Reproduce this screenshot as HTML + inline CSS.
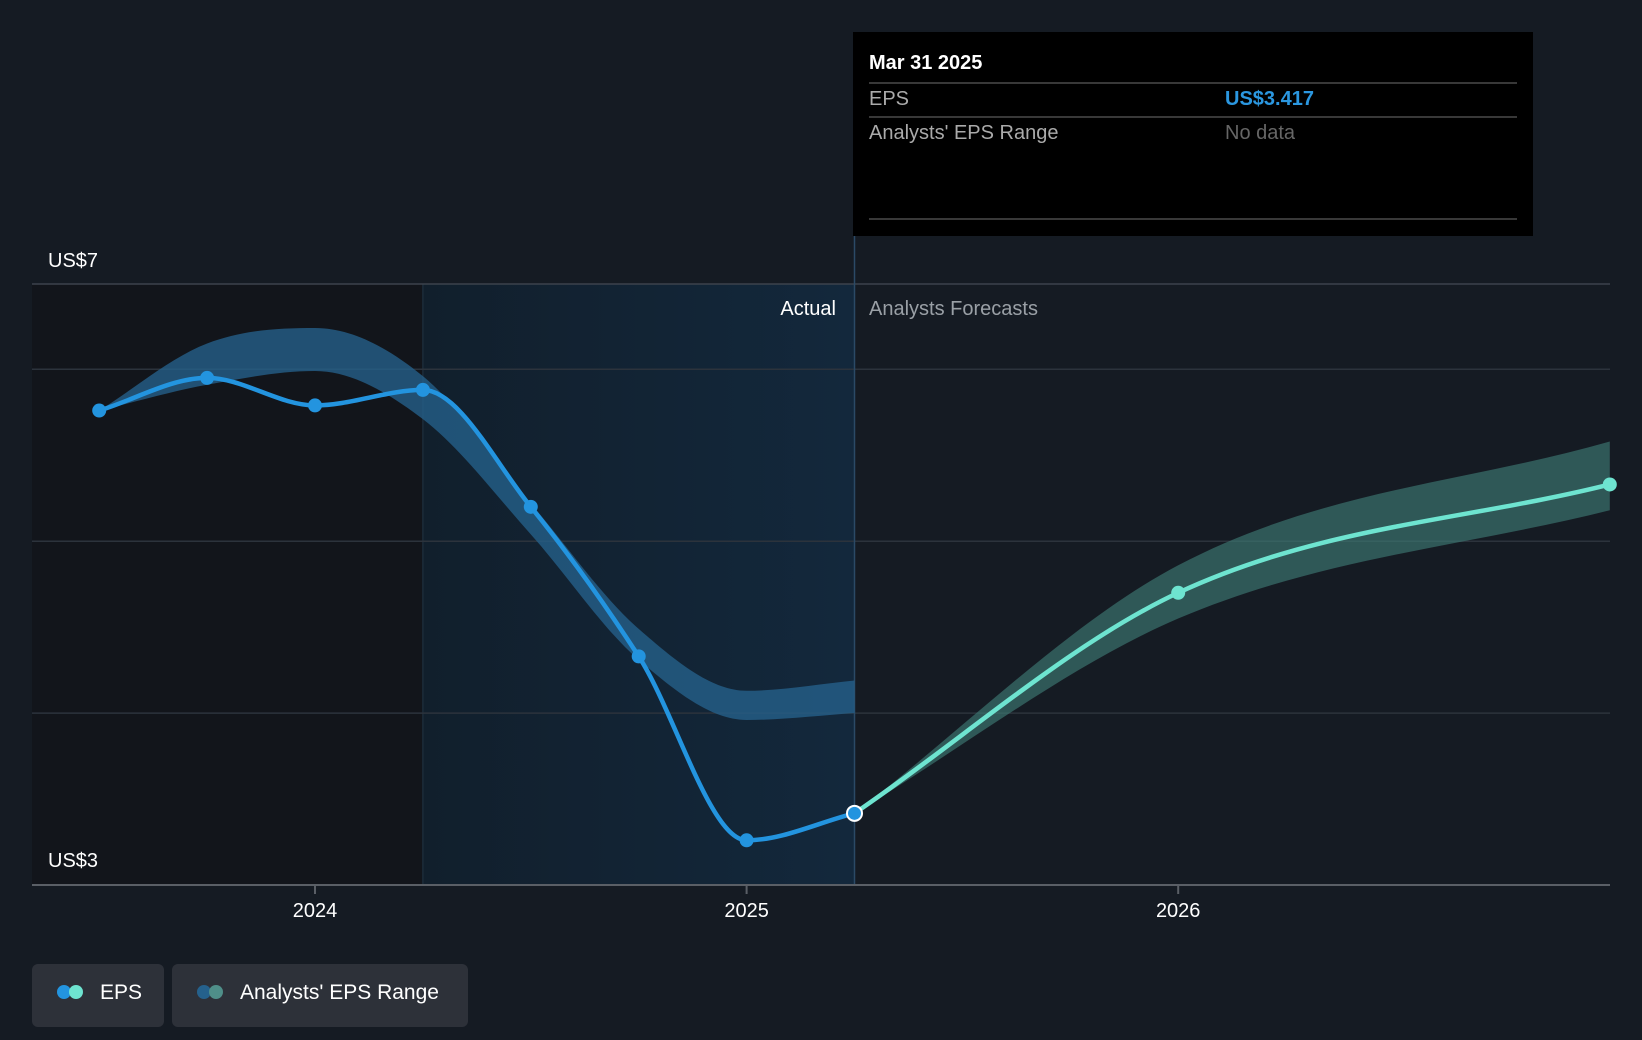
<!DOCTYPE html>
<html><head><meta charset="utf-8"><style>
html,body{margin:0;padding:0;background:#151b23;}
svg{display:block;font-family:"Liberation Sans",sans-serif;}
</style></head><body>
<svg width="1642" height="1040" viewBox="0 0 1642 1040">
<defs>
<linearGradient id="actG" x1="0" x2="1" y1="0" y2="0">
<stop offset="0" stop-color="#111f2c"/><stop offset="1" stop-color="#13283c"/>
</linearGradient>
</defs>
<rect x="0" y="0" width="1642" height="1040" fill="#151b23"/>
<g id="plot"></g>
<g>
<rect x="853" y="32" width="680" height="204" fill="#000"/>
<text x="869" y="69" fill="#fff" font-size="20" font-weight="bold">Mar 31 2025</text>
<line x1="869" x2="1517" y1="83" y2="83" stroke="#4a4a4a" stroke-width="1.5"/>
<text x="869" y="105" fill="#aaa" font-size="20">EPS</text>
<text x="1225" y="105" fill="#2b97e0" font-size="20" font-weight="bold">US$3.417</text>
<line x1="869" x2="1517" y1="117" y2="117" stroke="#4a4a4a" stroke-width="1.5"/>
<text x="869" y="139" fill="#aaa" font-size="20">Analysts' EPS Range</text>
<text x="1225" y="139" fill="#666" font-size="20">No data</text>
<line x1="869" x2="1517" y1="219" y2="219" stroke="#4a4a4a" stroke-width="1.5"/>
</g>
<g>
<g>
<rect x="32" y="964" width="132" height="63" rx="6" fill="#2d3139"/>
<circle cx="64" cy="992" r="7" fill="#2394df"/><circle cx="76" cy="992" r="7" fill="#6ee4d0"/>
<text x="100" y="999" fill="#fff" font-size="21">EPS</text>
</g>
<g>
<rect x="172" y="964" width="296" height="63" rx="6" fill="#2d3139"/>
<circle cx="204" cy="992" r="7" fill="#25618c"/><circle cx="216" cy="992" r="7" fill="#4f8f89"/>
<text x="240" y="999" fill="#fff" font-size="21">Analysts' EPS Range</text>
</g>
</g>
</svg>
<script>
const yTickValues=[4,5,6];
const xTickYears=[2024,2025,2026];
const xTickLabels=["2024","2025","2026"];
const actualDates=[2023.5,2023.75,2024.0,2024.25,2024.5,2024.75,2025.0,2025.25];
const actualEps=[5.76,5.95,5.79,5.88,5.20,4.33,3.26,3.417];
const pastRangeHigh=[5.76,6.15,6.24,5.96,5.22,4.49,4.13,4.19];
const pastRangeLow=[5.76,5.91,5.99,5.71,5.04,4.31,3.96,4.00];
const forecastDates=[2025.25,2026.0,2027.0];
const forecastEps=[3.417,4.70,5.33];
const forecastHigh=[3.417,4.86,5.58];
const forecastLow=[3.417,4.55,5.18];
const splitDate=2025.25, actualStart=2024.25;

const L=32,R=1610,yBase=885,yTopLine=284;
const X=d=>315+(d-2024)*431.6;
const Y=v=>885-(v-3)*171.9;
const NS="http://www.w3.org/2000/svg";
const plot=document.getElementById('plot');
function mk(t,a,p){const e=document.createElementNS(NS,t);for(const k in a)e.setAttribute(k,a[k]);(p||plot).appendChild(e);return e;}
function mono(xs,ys){const n=xs.length;const d=[],m=[];for(let i=0;i<n-1;i++)d.push((ys[i+1]-ys[i])/(xs[i+1]-xs[i]));
for(let i=0;i<n;i++){if(i==0)m.push(d[0]);else if(i==n-1)m.push(d[n-2]);else m.push(d[i-1]*d[i]<=0?0:(d[i-1]+d[i])/2);}
for(let i=0;i<n-1;i++){if(d[i]==0){m[i]=m[i+1]=0;continue;}const a=m[i]/d[i],b=m[i+1]/d[i],s=a*a+b*b;if(s>9){const t=3/Math.sqrt(s);m[i]=t*a*d[i];m[i+1]=t*b*d[i];}}
let p='M'+xs[0]+','+ys[0];for(let i=0;i<n-1;i++){const h=(xs[i+1]-xs[i])/3;p+=' C'+(xs[i]+h)+','+(ys[i]+m[i]*h)+' '+(xs[i+1]-h)+','+(ys[i+1]-m[i+1]*h)+' '+xs[i+1]+','+ys[i+1];}return p;}
function curve(ds,vs){return mono(ds.map(X),vs.map(Y));}
function band(ds,hi,lo){const top=curve(ds,hi);const rx=ds.slice().reverse(),rl=lo.slice().reverse();
const bot=mono(rx.map(X).map(v=>-v),rl.map(Y)).replace(/-?[\d.]+,/g,s=>(-parseFloat(s))+',');return top+' L'+bot.slice(1)+' Z';}

let e;
e=mk('rect',{x:L,y:yTopLine,width:X(actualStart)-L,height:yBase-yTopLine,fill:'#12151b'});

e=mk('rect',{x:X(actualStart),y:yTopLine,width:X(splitDate)-X(actualStart),height:yBase-yTopLine,fill:'url(#actG)'});

e=mk('line',{x1:X(actualStart),x2:X(actualStart),y1:yTopLine,y2:yBase,stroke:'#1c2c3a','stroke-width':1.5});

yTickValues.forEach(v=>{e=mk('line',{x1:L,x2:R,y1:Y(v),y2:Y(v),stroke:'#2c333c','stroke-width':1.5});
});
e=mk('line',{x1:L,x2:R,y1:yTopLine,y2:yTopLine,stroke:'#3c434c','stroke-width':1.5});

e=mk('line',{x1:X(splitDate),x2:X(splitDate),y1:236,y2:yBase,stroke:'#2b4a66','stroke-width':1.5});


e=mk('path',{d:band(actualDates,pastRangeHigh,pastRangeLow),fill:'#25618c','fill-opacity':0.78});

e=mk('path',{d:band(forecastDates,forecastHigh,forecastLow),fill:'#3f7e78','fill-opacity':0.62});


e=mk('path',{d:curve(actualDates,actualEps),fill:'none',stroke:'#2394df','stroke-width':4.5});

e=mk('path',{d:curve(forecastDates,forecastEps),fill:'none',stroke:'#6ee4d0','stroke-width':4.5});

actualDates.forEach((d,i)=>{if(i==actualDates.length-1)return;e=mk('circle',{cx:X(d),cy:Y(actualEps[i]),r:7,fill:'#2394df'});
});
forecastDates.forEach((d,i)=>{if(i==0)return;e=mk('circle',{cx:X(d),cy:Y(forecastEps[i]),r:7,fill:'#6ee4d0'});
});
e=mk('circle',{cx:X(splitDate),cy:Y(actualEps[actualEps.length-1]),r:7.5,fill:'#2394df',stroke:'#fff','stroke-width':2});


e=mk('line',{x1:L,x2:R,y1:yBase,y2:yBase,stroke:'#5a5f66','stroke-width':2});

xTickYears.forEach((yr,i)=>{e=mk('line',{x1:X(yr),x2:X(yr),y1:yBase,y2:yBase+9,stroke:'#5a5f66','stroke-width':2});

e=mk('text',{x:X(yr),y:917,fill:'#fff','font-size':20,'text-anchor':'middle'});e.textContent=xTickLabels[i];
});
e=mk('text',{x:48,y:267,fill:'#fff','font-size':20});e.textContent='US$7';

e=mk('text',{x:48,y:867,fill:'#fff','font-size':20});e.textContent='US$3';

e=mk('text',{x:836,y:315,fill:'#fff','font-size':20,'text-anchor':'end'});e.textContent='Actual';

e=mk('text',{x:869,y:315,fill:'#9aa0a6','font-size':20});e.textContent='Analysts Forecasts';

</script>
</body></html>
